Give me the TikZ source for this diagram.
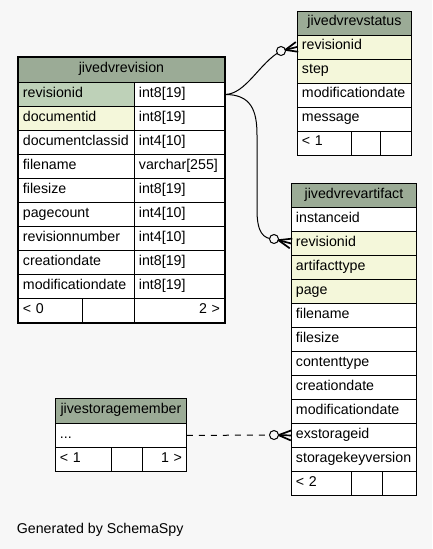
\documentclass[tikz,border=0pt]{standalone}
\usepackage{fontspec}
\setmainfont{Liberation Sans}
\usetikzlibrary{calc}
\definecolor{bgc}{HTML}{F7F7F7}
\definecolor{hdr}{HTML}{9BAB96}
\definecolor{pkc}{HTML}{BED1B8}
\definecolor{fkc}{HTML}{F4F7DA}
\newcommand\tfont{\fontsize{14.2}{16}\selectfont\hyphenpenalty=10000\exhyphenpenalty=10000\relax}
\newcommand\crowfoot[2]{%
  \draw[crow] ($(#1)!4.5pt!(#2)$) -- ($(#2)!5pt!90:(#1)$);
  \draw[crow] ($(#1)!4.5pt!(#2)$) -- (#2);
  \draw[crow] ($(#1)!4.5pt!(#2)$) -- ($(#2)!5pt!-90:(#1)$);
  \draw[edge, fill=bgc] (#1) circle[radius=4.5pt];
}
\tikzset{
  tb/.style={draw=black, line width=0.9pt, rectangle, anchor=north west,
    inner xsep=4.5pt, inner ysep=0pt, minimum height=24pt,
    text height=9pt, text depth=3pt, font=\tfont, fill=white, align=left},
  hd/.style={tb, fill=hdr, align=center},
  cw/.style 2 args={minimum width=#1pt, text width=#2pt},
  edge/.style={draw=black, line width=1pt},
  crow/.style={draw=black, line width=1.7pt},
}
\begin{document}
\begin{tikzpicture}[x=1pt,y=-1pt]
\useasboundingbox[fill=bgc] (0,0) rectangle (432,549);

% ---- jivedvrevision ----
\node[hd, cw={206}{197}, minimum height=25pt] (mr-h) at (18,57) {jivedvrevision};
\foreach \n/\ty/\f [count=\i from 0] in {revisionid/int8[19]/pkc, documentid/int8[19]/fkc,
  documentclassid/int4[10]/white, filename/varchar[255]/white, filesize/int8[19]/white,
  pagecount/int4[10]/white, revisionnumber/int4[10]/white, creationdate/int8[19]/white,
  modificationdate/int8[19]/white}{
  \node[tb, cw={116}{107}, fill=\f] (mr-n\i) at (18,{82+24*\i}) {\n};
  \node[tb, cw={90}{81}] (mr-t\i) at (134,{82+24*\i}) {\ty};
}
\node[tb, cw={64}{55}] (mr-f0) at (18,298) {< 0};
\node[tb, cw={52}{43}] (mr-f1) at (82,298) {};
\node[tb, cw={90}{81}, align=right] (mr-f2) at (134,298) {2 >};
\draw[line width=2.6pt] (mr-h.north west) rectangle (mr-f2.south east);

% ---- jivedvrevstatus ----
\node[hd, cw={114}{105}] (rs-h) at (297,10.5) {jivedvrevstatus};
\foreach \n/\f [count=\i from 0] in {revisionid/fkc, step/fkc, modificationdate/white, message/white}{
  \node[tb, cw={114}{105}, fill=\f] (rs-\i) at (297,{34.5+24*\i}) {\n};
}
\node[tb, cw={54}{45}] (rs-f0) at (297,130.5) {< 1};
\node[tb, cw={29}{20}] (rs-f1) at (351,130.5) {};
\node[tb, cw={31}{22}] (rs-f2) at (380,130.5) {};

% ---- jivedvrevartifact ----
\node[hd, cw={125}{116}] (ra-h) at (291,183) {jivedvrevartifact};
\foreach \n/\f [count=\i from 0] in {instanceid/white, revisionid/fkc, artifacttype/fkc, page/fkc,
  filename/white, filesize/white, contenttype/white, creationdate/white,
  modificationdate/white, exstorageid/white, storagekeyversion/white}{
  \node[tb, cw={125}{116}, fill=\f] (ra-\i) at (291,{207+24*\i}) {\n};
}
\node[tb, cw={60}{51}] (ra-f0) at (291,471) {< 2};
\node[tb, cw={31}{22}] (ra-f1) at (351,471) {};
\node[tb, cw={34}{25}] (ra-f2) at (382,471) {};

% ---- jivestoragemember ----
\node[hd, cw={131}{122}, minimum height=25pt] (sm-h) at (55,398) {jivestoragemember};
\node[tb, cw={131}{122}] (sm-0) at (55,423) {...};
\node[tb, cw={56}{47}] (sm-f0) at (55,447) {< 1};
\node[tb, cw={31}{22}] (sm-f1) at (111,447) {};
\node[tb, cw={44}{35}, align=right] (sm-f2) at (142,447) {1 >};

% ---- connectors ----
\coordinate (c1) at (281,51);
\coordinate (c2) at (274,239);
\coordinate (c3) at (274,435);
\coordinate (v1) at (257,135);
\coordinate (v2) at (257,210);

\draw[edge] (mr-t0.east) .. controls +(21,0) and +(-21,11) .. (c1);
\crowfoot{c1}{rs-0.west}

\draw[edge] (mr-t0.east) .. controls +(26,0) and +(0,-25) .. (v1) -- (v2)
  .. controls +(0,22) and +(-11,0) .. (c2);
\crowfoot{c2}{ra-1.west}

\draw[edge, dash pattern=on 6pt off 6pt] (sm-0.east) -- (c3);
\crowfoot{c3}{ra-9.west}

\node[anchor=base west, font=\tfont, inner sep=0pt] (gen) at (16.7,533.5) {Generated by SchemaSpy};
\end{tikzpicture}
\end{document}
